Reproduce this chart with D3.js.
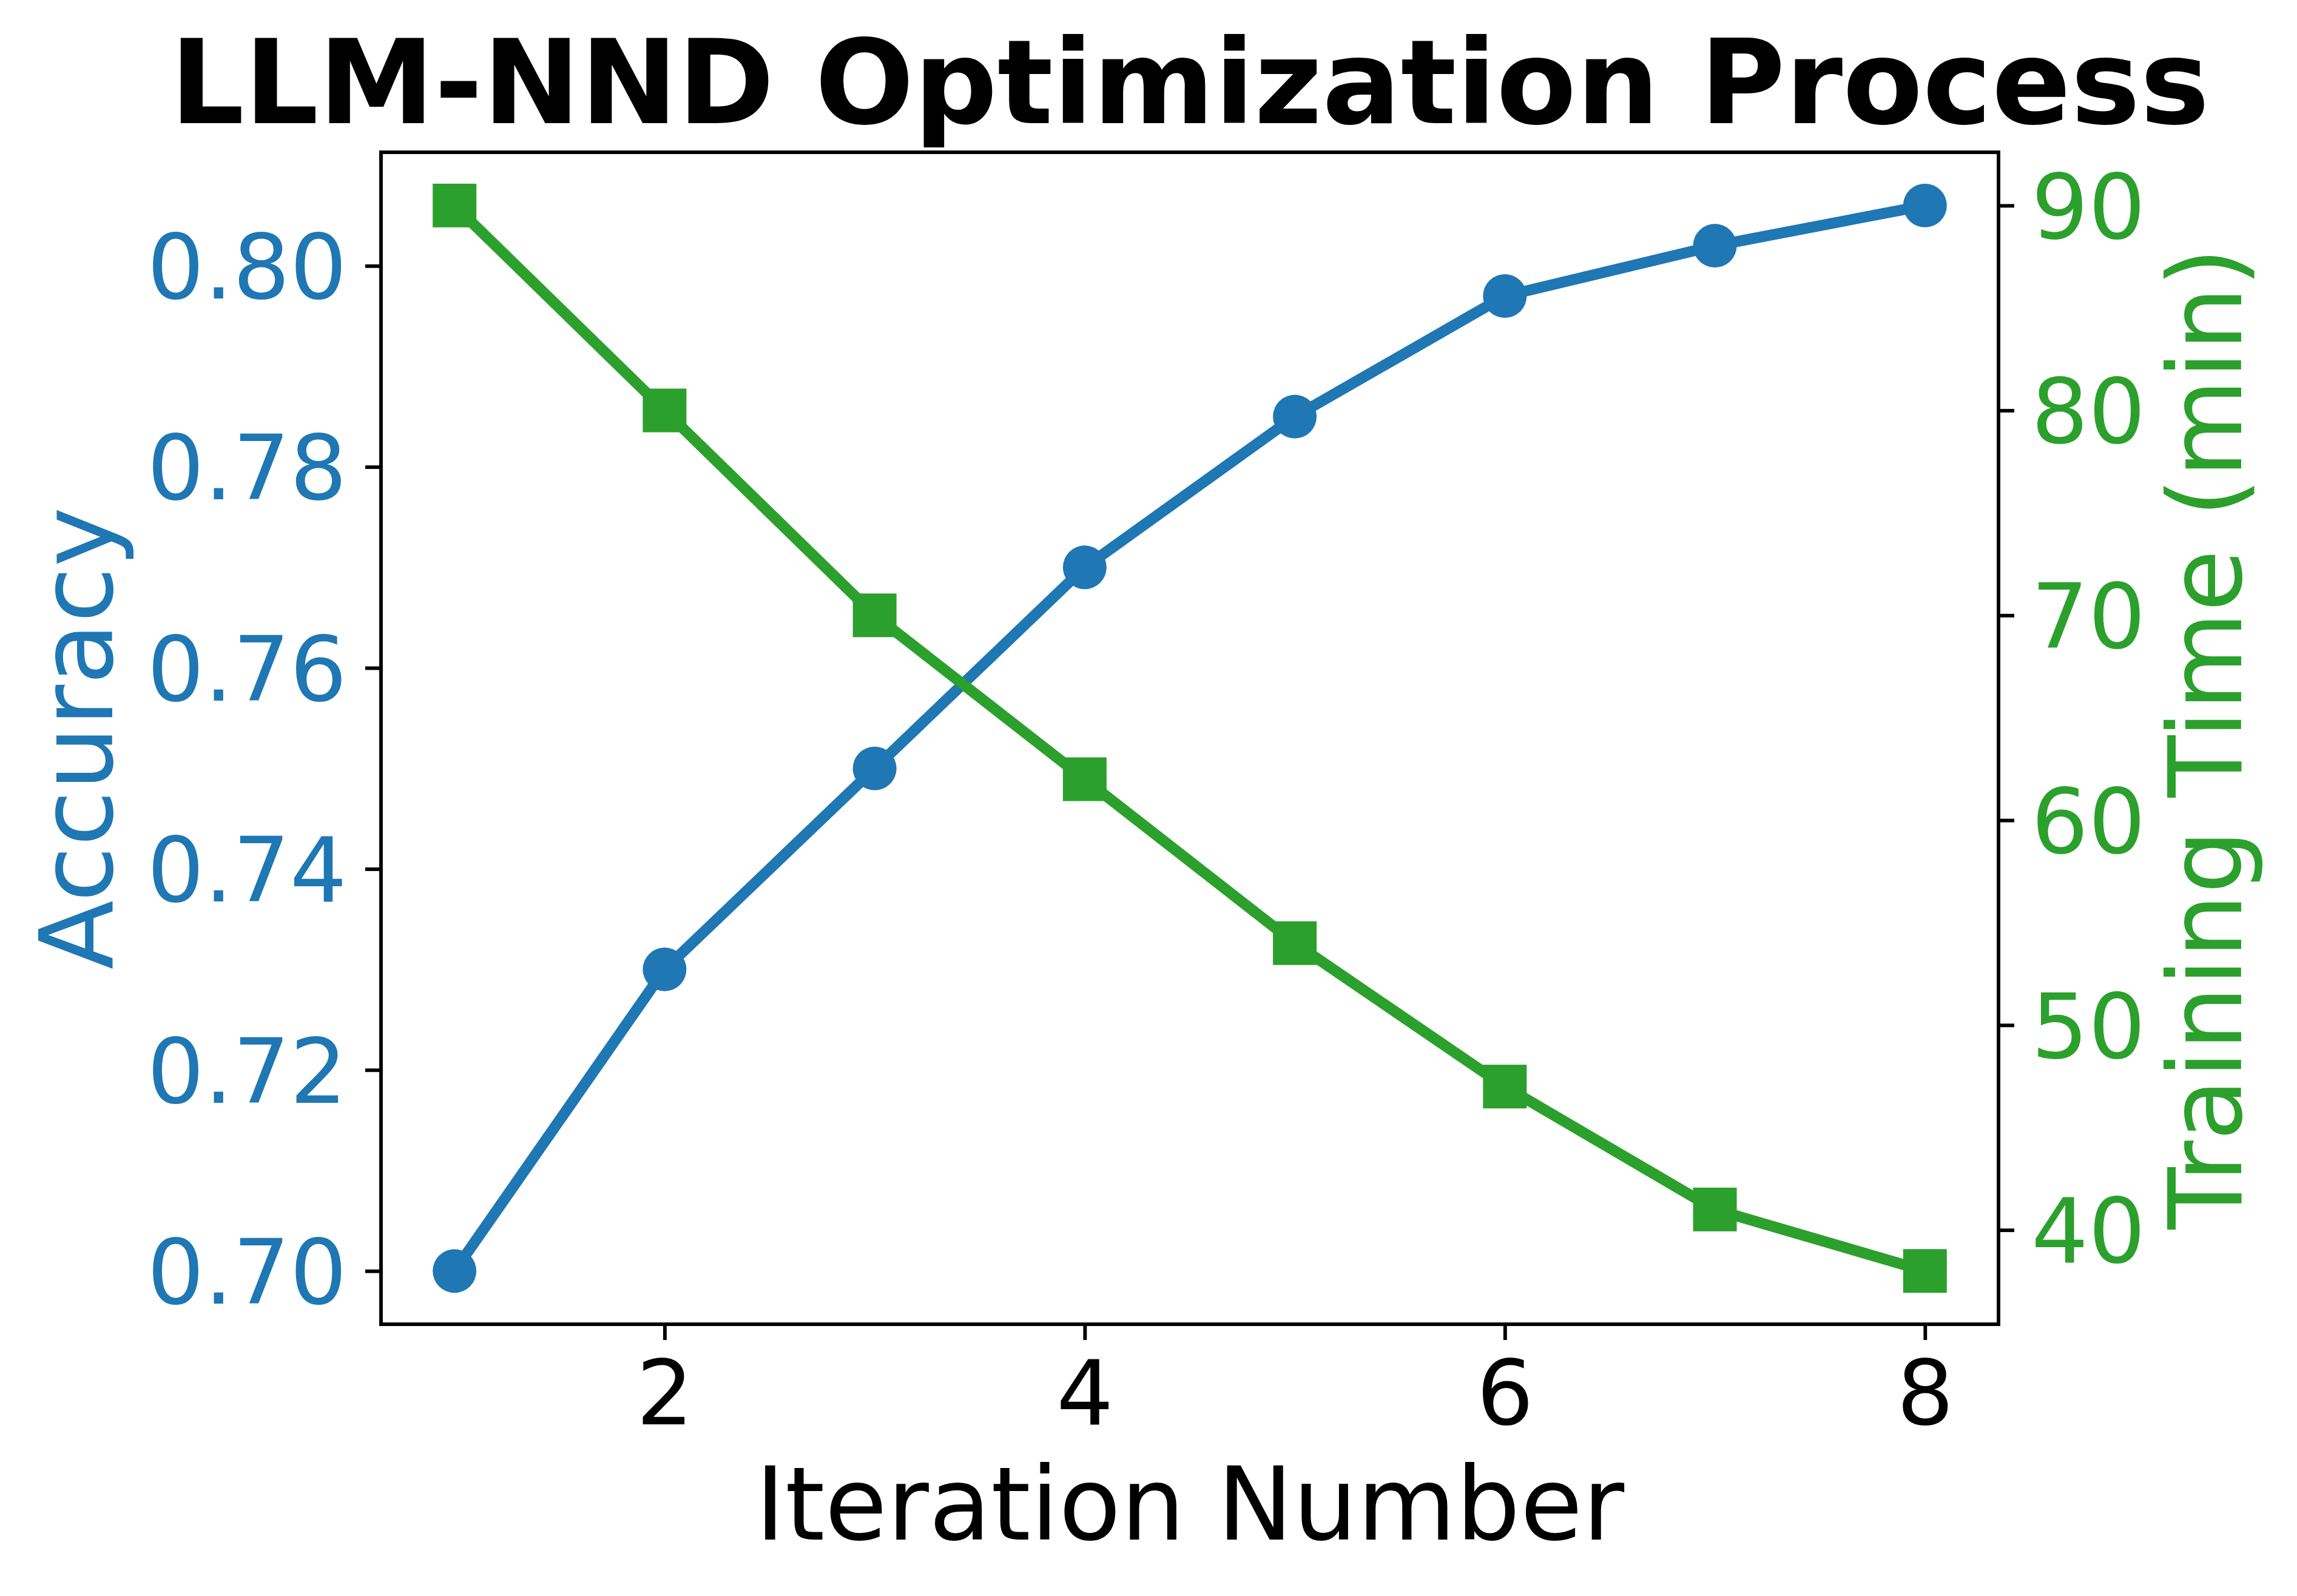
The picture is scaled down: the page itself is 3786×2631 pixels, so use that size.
<!DOCTYPE html>
<html>
<head>
<meta charset="utf-8">
<script src="https://cdn.jsdelivr.net/npm/d3@7"></script>
<style>
  html, body { margin: 0; padding: 0; background: #fff; }
  svg text { font-family: "DejaVu Sans", sans-serif; }
</style>
</head>
<body>
<div id="chart"></div>
<script>
const iterations = [1, 2, 3, 4, 5, 6, 7, 8];
const accuracy = [0.70, 0.73, 0.75, 0.77, 0.785, 0.797, 0.802, 0.806];
const trainingTime = [90, 80, 70, 62, 54, 47, 41, 38];
const xTicks = [2, 4, 6, 8];
const accTicks = [0.70, 0.72, 0.74, 0.76, 0.78, 0.80];
const timeTicks = [40, 50, 60, 70, 80, 90];
const titleText = "LLM-NND Optimization Process";
const xLabel = "Iteration Number";
const yLabelLeft = "Accuracy";
const yLabelRight = "Training Time (min)";

(function () {
const W = 3786, H = 2631;
const pL = 628, pR = 3294, pT = 251, pB = 2183;
const BLUE = "#1f77b4", GREEN = "#2ca02c";

function padded(ext) {
  const m = (ext[1] - ext[0]) * 0.05;
  return [ext[0] - m, ext[1] + m];
}

const x = d3.scaleLinear().domain(padded(d3.extent(iterations))).range([pL, pR]);
const yA = d3.scaleLinear().domain(padded(d3.extent(accuracy))).range([pB, pT]);
const yT = d3.scaleLinear().domain(padded(d3.extent(trainingTime))).range([pB, pT]);

const svg = d3.select("#chart").append("svg")
  .attr("width", W).attr("height", H)
  .attr("viewBox", `0 0 ${W} ${H}`);

svg.append("rect").attr("width", W).attr("height", H).attr("fill", "#fff");

const TICK = 26, SPINE = 5.9, TFS = 148, LFS = 167;

// Bottom axis
const gx = svg.append("g").attr("transform", `translate(0,${pB})`)
  .call(d3.axisBottom(x).tickValues(xTicks).tickSize(TICK).tickFormat(d3.format("d")));
gx.select(".domain").remove();
gx.selectAll(".tick line").attr("stroke", "#000").attr("stroke-width", SPINE);
gx.selectAll(".tick text").attr("fill", "#000").attr("font-size", TFS)
  .attr("font-family", "DejaVu Sans").attr("y", 165).attr("dy", null);

// Left axis
const gyA = svg.append("g").attr("transform", `translate(${pL},0)`)
  .call(d3.axisLeft(yA).tickValues(accTicks).tickSize(TICK).tickPadding(30).tickFormat(d3.format(".2f")));
gyA.select(".domain").remove();
gyA.selectAll(".tick line").attr("stroke", "#000").attr("stroke-width", SPINE);
gyA.selectAll(".tick text").attr("fill", BLUE).attr("font-size", TFS)
  .attr("font-family", "DejaVu Sans").attr("dy", "0.36em");

// Right axis
const gyT = svg.append("g").attr("transform", `translate(${pR},0)`)
  .call(d3.axisRight(yT).tickValues(timeTicks).tickSize(TICK).tickPadding(28).tickFormat(d3.format("d")));
gyT.select(".domain").remove();
gyT.selectAll(".tick line").attr("stroke", "#000").attr("stroke-width", SPINE);
gyT.selectAll(".tick text").attr("fill", GREEN).attr("font-size", TFS)
  .attr("font-family", "DejaVu Sans").attr("dy", "0.36em");

// Accuracy series
const lineA = d3.line().x((d, i) => x(iterations[i])).y(d => yA(d));
svg.append("path").datum(accuracy).attr("d", lineA)
  .attr("fill", "none").attr("stroke", BLUE).attr("stroke-width", 18)
  .attr("stroke-linejoin", "round");
svg.append("g").selectAll("circle").data(accuracy).join("circle")
  .attr("cx", (d, i) => x(iterations[i])).attr("cy", d => yA(d))
  .attr("r", 36).attr("fill", BLUE);

// Training time series
const lineT = d3.line().x((d, i) => x(iterations[i])).y(d => yT(d));
svg.append("path").datum(trainingTime).attr("d", lineT)
  .attr("fill", "none").attr("stroke", GREEN).attr("stroke-width", 18)
  .attr("stroke-linejoin", "round");
svg.append("g").selectAll("rect.m").data(trainingTime).join("rect")
  .attr("class", "m")
  .attr("x", (d, i) => x(iterations[i]) - 36).attr("y", d => yT(d) - 36)
  .attr("width", 72).attr("height", 72).attr("fill", GREEN);

// Frame
svg.append("rect").attr("x", pL).attr("y", pT)
  .attr("width", pR - pL).attr("height", pB - pT)
  .attr("fill", "none").attr("stroke", "#000").attr("stroke-width", SPINE)
  .attr("stroke-linejoin", "miter");

// Title
svg.append("text").attr("x", (pL + pR) / 2).attr("y", 203)
  .attr("text-anchor", "middle").attr("font-size", 192).attr("font-weight", "bold")
  .attr("fill", "#000").text(titleText);

// X label
svg.append("text").attr("x", (pL + pR) / 2).attr("y", 2538)
  .attr("text-anchor", "middle").attr("font-size", LFS).attr("fill", "#000").text(xLabel);

// Y labels
const cy = (pT + pB) / 2;
svg.append("text").attr("transform", `translate(185,${cy}) rotate(-90)`)
  .attr("text-anchor", "middle").attr("font-size", LFS).attr("fill", BLUE).text(yLabelLeft);
svg.append("text").attr("transform", `translate(3694,${cy}) rotate(-90)`)
  .attr("text-anchor", "middle").attr("font-size", LFS).attr("fill", GREEN).text(yLabelRight);
})();
</script>
</body>
</html>
